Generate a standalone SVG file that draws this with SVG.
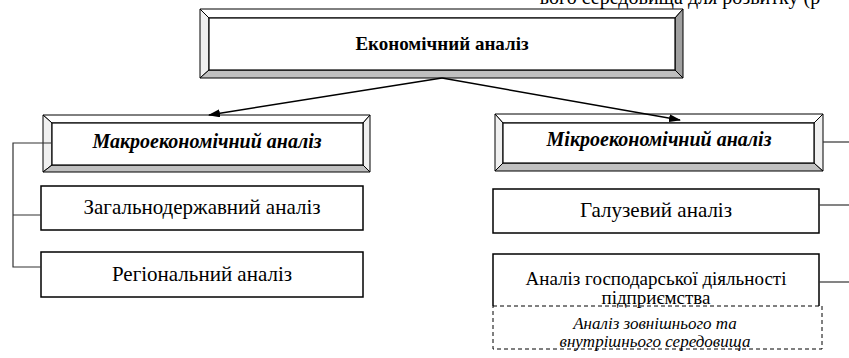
<svg xmlns="http://www.w3.org/2000/svg" width="849" height="358" viewBox="0 0 849 358">
<defs>
<marker id="ah" markerWidth="12" markerHeight="8" refX="11" refY="4" orient="auto" markerUnits="userSpaceOnUse">
<path d="M0,0 L12,4 L0,8 Z" fill="#000"/>
</marker>
</defs>
<rect width="849" height="358" fill="#fff"/>

<text x="680" y="4" font-size="20" font-family="serif" text-anchor="middle" fill="#000">ього середовища для розвитку (р</text>

<g id="economic" stroke="#000" stroke-width="1">
<polygon fill="#fff" points="200,9 683,9 675,18 209,18"/>
<polygon fill="#f0f0f0" points="200,9 209,18 209,70 200,78"/>
<polygon fill="#c0c0c0" points="200,78 209,70 675,70 683,78"/>
<polygon fill="#a0a0a0" points="683,9 683,78 675,70 675,18"/>
<rect x="209" y="18" width="466" height="52" fill="#fff" stroke-width="1.2"/>
<text x="442" y="50" font-size="19" font-family="serif" font-weight="bold" text-anchor="middle" fill="#000" stroke="none">Економічний аналіз</text>
</g>

<g id="macro" stroke="#000" stroke-width="1">
<polygon fill="#fff" points="43,115 370,115 363,123 52,123"/>
<polygon fill="#f0f0f0" points="43,115 52,123 52,165 43,172"/>
<polygon fill="#c0c0c0" points="43,172 52,165 363,165 370,172"/>
<polygon fill="#f0f0f0" points="370,115 370,172 363,165 363,123"/>
<rect x="52" y="123" width="311" height="42" fill="#fff" stroke-width="1.2"/>
<text x="207" y="148" font-size="20" font-family="serif" font-weight="bold" font-style="italic" text-anchor="middle" fill="#000" stroke="none">Макроекономічний аналіз</text>
</g>

<g id="micro" stroke="#000" stroke-width="1">
<polygon fill="#fff" points="495,114 823,114 814,123 503,123"/>
<polygon fill="#f0f0f0" points="495,114 503,123 503,163 495,171"/>
<polygon fill="#c0c0c0" points="495,171 503,163 814,163 823,171"/>
<polygon fill="#f0f0f0" points="823,114 823,171 814,163 814,123"/>
<rect x="503" y="123" width="311" height="40" fill="#fff" stroke-width="1.2"/>
<text x="659" y="146" font-size="20" font-family="serif" font-weight="bold" font-style="italic" text-anchor="middle" fill="#000" stroke="none">Мікроекономічний аналіз</text>
</g>

<g id="national">
<rect x="41" y="186" width="322" height="44" fill="#fff" stroke="#000" stroke-width="1.5"/>
<text x="202" y="214" font-size="21" font-family="serif" text-anchor="middle" fill="#000">Загальнодержавний аналіз</text>
</g>

<g id="regional">
<rect x="41" y="252" width="322" height="45" fill="#fff" stroke="#000" stroke-width="1.5"/>
<text x="202" y="281" font-size="21" font-family="serif" text-anchor="middle" fill="#000">Регіональний аналіз</text>
</g>

<g id="sectoral">
<rect x="493" y="189" width="326" height="44" fill="#fff" stroke="#000" stroke-width="1.5"/>
<text x="656" y="217" font-size="21" font-family="serif" text-anchor="middle" fill="#000">Галузевий аналіз</text>
</g>

<g id="enterprise">
<path d="M493,306 V254 H819 V306" fill="#fff" stroke="#000" stroke-width="1.5"/>
<text x="656" y="285" font-size="19" font-family="serif" text-anchor="middle" fill="#000">Аналіз господарської діяльності</text>
<text x="656" y="304" font-size="19" font-family="serif" text-anchor="middle" fill="#000">підприємства</text>
</g>

<g id="environment">
<rect x="493" y="306" width="329" height="43" fill="none" stroke="#000" stroke-width="1" stroke-dasharray="4,3"/>
<text x="655" y="329" font-size="17" font-family="serif" font-style="italic" text-anchor="middle" fill="#000">Аналіз зовнішнього та</text>
<text x="655" y="347" font-size="17" font-family="serif" font-style="italic" text-anchor="middle" fill="#000">внутрішнього середовища</text>
</g>

<g id="connectors" fill="none">
<line x1="442" y1="78" x2="209" y2="115" stroke="#000" stroke-width="1.5" marker-end="url(#ah)"/>
<line x1="442" y1="78" x2="680" y2="120" stroke="#000" stroke-width="1.5" marker-end="url(#ah)"/>
<path d="M52,143 H13 V267 H41 M13,215 H41" stroke="#333" stroke-width="1.2"/>
<line x1="823" y1="142" x2="849" y2="142" stroke="#333" stroke-width="1.2"/>
<line x1="819" y1="205" x2="849" y2="205" stroke="#333" stroke-width="1.2"/>
<line x1="819" y1="282" x2="849" y2="282" stroke="#333" stroke-width="1.2"/>
</g>
</svg>
